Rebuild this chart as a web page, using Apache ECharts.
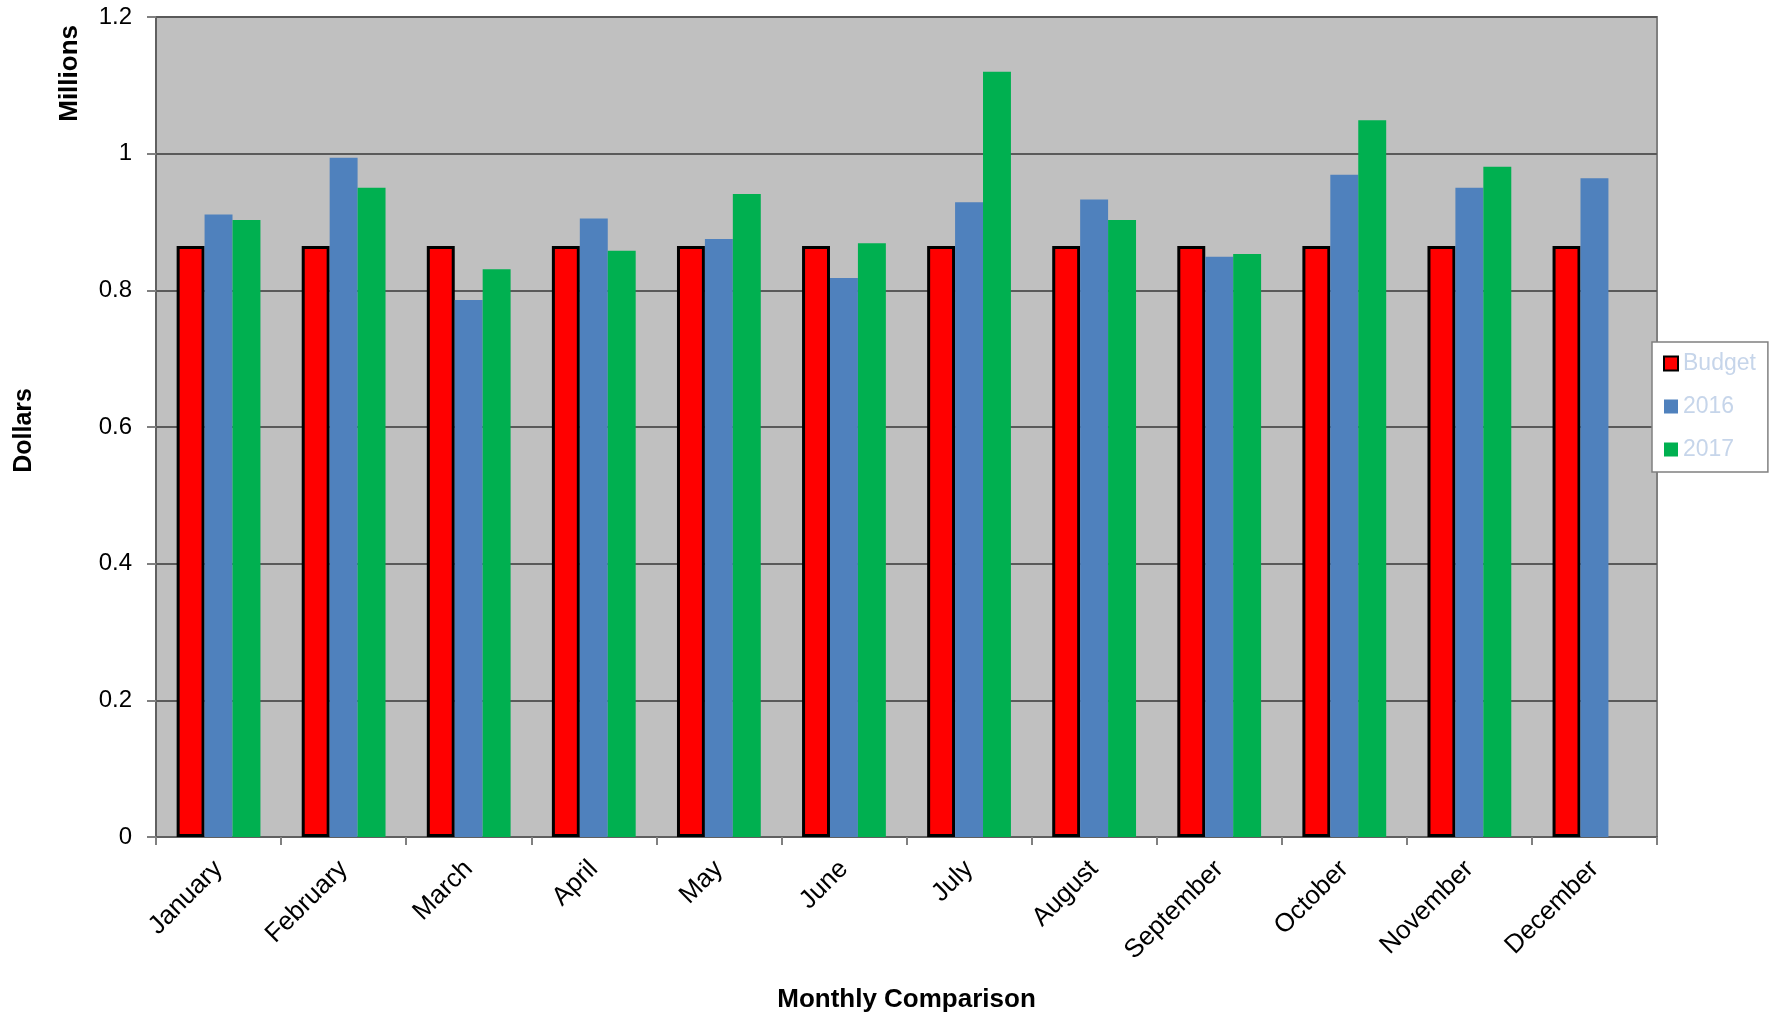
<!DOCTYPE html>
<html>
<head>
<meta charset="utf-8">
<script src="https://cdn.jsdelivr.net/npm/echarts@6/dist/echarts.min.js"></script>
<style>
html,body{margin:0;padding:0;background:#fff;}
#chart{width:1771px;height:1018px;}
</style>
</head>
<body>
<div id="chart"></div>
<script>
const months = ['January','February','March','April','May','June','July','August','September','October','November','December'];
const budget = [0.865,0.865,0.865,0.865,0.865,0.865,0.865,0.865,0.865,0.865,0.865,0.865];
const y2016 = [0.911,0.994,0.786,0.905,0.875,0.818,0.929,0.933,0.849,0.969,0.950,0.964];
const y2017 = [0.903,0.950,0.831,0.858,0.941,0.869,1.120,0.903,0.853,1.049,0.981,null];
const yTicks = [0,0.2,0.4,0.6,0.8,1,1.2];

const FONT = '"Liberation Sans", Arial, sans-serif';
const chart = echarts.init(document.getElementById('chart'));
chart.setOption({
  animation:false,
  backgroundColor:'#ffffff',
  textStyle:{fontFamily:FONT},
  grid:{left:156,right:114,top:17,bottom:181,show:true,backgroundColor:'#c0c0c0',borderColor:'#808080',borderWidth:2},
  legend:{
    orient:'vertical',left:1652,top:342,
    backgroundColor:'#ffffff',borderColor:'#808080',borderWidth:1.5,borderRadius:0,
    padding:[10,12,11,11],itemGap:20,itemWidth:14,itemHeight:14,
    icon:'rect',
    textStyle:{color:'#c6d5ea',fontSize:23,fontFamily:FONT},
    data:['Budget','2016','2017']
  },
  xAxis:{
    type:'category',data:months,
    axisLine:{lineStyle:{color:'#606060',width:2}},
    axisTick:{show:true,alignWithLabel:false,length:8,lineStyle:{color:'#808080',width:2}},
    axisLabel:{rotate:45,fontSize:26,color:'#000',margin:28,interval:0,fontFamily:FONT},
    name:'Monthly Comparison',nameLocation:'middle',nameGap:150,
    nameTextStyle:{fontSize:26,fontWeight:'bold',color:'#000',fontFamily:FONT}
  },
  yAxis:{
    type:'value',min:0,max:1.2,interval:0.2,
    axisLine:{show:true,lineStyle:{color:'#606060',width:2}},
    axisTick:{show:true,length:9,lineStyle:{color:'#808080',width:2}},
    splitLine:{show:true,lineStyle:{color:'#5a5a5a',width:2}},
    axisLabel:{fontSize:24,color:'#000',margin:24,fontFamily:FONT,
      formatter:function(v){return yTicks.indexOf(+v.toFixed(1))>=0?String(+v.toFixed(1)):'';}}
  },
  graphic:[
    {type:'text',left:57,top:25,rotation:Math.PI/2,style:{text:'Millions',font:'bold 26px "Liberation Sans", Arial, sans-serif',fill:'#000'}},
    {type:'text',left:12,top:388,rotation:Math.PI/2,style:{text:'Dollars',font:'bold 25px "Liberation Sans", Arial, sans-serif',fill:'#000'}}
  ],
  series:[
    {name:'Budget',type:'bar',data:budget,barGap:'0%',barCategoryGap:'33%',
      itemStyle:{color:'#ff0000',borderColor:'#000',borderWidth:3}},
    {name:'2016',type:'bar',data:y2016,barGap:'0%',barCategoryGap:'33%',
      itemStyle:{color:'#4f81bd'}},
    {name:'2017',type:'bar',data:y2017,barGap:'0%',barCategoryGap:'33%',
      itemStyle:{color:'#00b050'}}
  ]
});
</script>
</body>
</html>
